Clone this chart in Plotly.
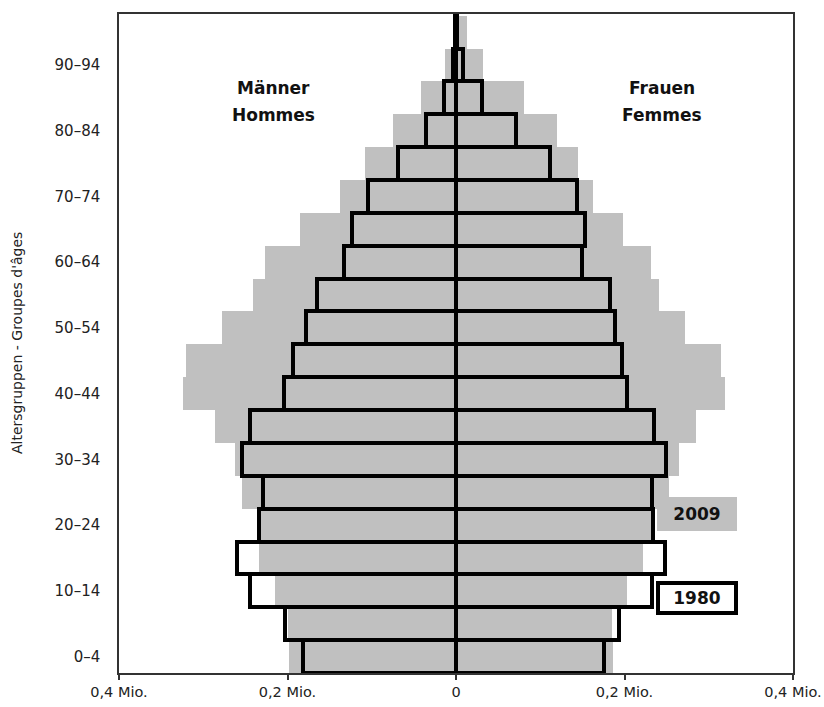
import plotly.graph_objects as go

ages = ["0–4", "5–9", "10–14", "15–19", "20–24", "25–29", "30–34", "35–39",
        "40–44", "45–49", "50–54", "55–59", "60–64", "65–69", "70–74", "75–79",
        "80–84", "85–89", "90–94", "95–99"]

# population in millions
men_2009 = [0.198, 0.199, 0.215, 0.234, 0.232, 0.254, 0.262, 0.2855, 0.324, 0.321,
            0.2775, 0.241, 0.227, 0.185, 0.138, 0.108, 0.0745, 0.041, 0.0125, 0.002]
women_2009 = [0.186, 0.1854, 0.203, 0.222, 0.231, 0.2526, 0.2645, 0.285, 0.319, 0.314,
              0.272, 0.241, 0.231, 0.198, 0.163, 0.145, 0.120, 0.081, 0.032, 0.0125]
men_1980 = [0.182, 0.203, 0.244, 0.2597, 0.234, 0.2285, 0.2546, 0.245, 0.204, 0.194,
            0.1775, 0.165, 0.133, 0.124, 0.104, 0.0686, 0.036, 0.014, 0.004, 0.001]
women_1980 = [0.1755, 0.1937, 0.2329, 0.2483, 0.2336, 0.2329, 0.2487, 0.2356, 0.203, 0.197,
              0.189, 0.183, 0.150, 0.153, 0.144, 0.111, 0.071, 0.031, 0.0085, 0.001]

x_tickvals = [-0.4, -0.2, 0, 0.2, 0.4]
x_ticktext = ["0,4 Mio.", "0,2 Mio.", "0", "0,2 Mio.", "0,4 Mio."]
y_ticklabels = ages[0:19:2]

GRAY = "#c0c0c0"
FONT = "DejaVu Sans"

fig = go.Figure()
fig.add_trace(go.Bar(y=ages, x=[-v for v in men_2009], orientation="h",
                     marker=dict(color=GRAY, line=dict(width=0)), name="Männer 2009"))
fig.add_trace(go.Bar(y=ages, x=women_2009, orientation="h",
                     marker=dict(color=GRAY, line=dict(width=0)), name="Frauen 2009"))
fig.add_trace(go.Bar(y=ages, x=[-v for v in men_1980], orientation="h",
                     marker=dict(color="rgba(0,0,0,0)", line=dict(color="black", width=4)),
                     name="Männer 1980"))
fig.add_trace(go.Bar(y=ages, x=women_1980, orientation="h",
                     marker=dict(color="rgba(0,0,0,0)", line=dict(color="black", width=4)),
                     name="Frauen 1980"))

lbl = dict(showarrow=False, xref="x", yref="paper", yanchor="middle", xanchor="center",
           font=dict(size=17, color="#111", family=FONT))
annotations = [
    dict(text="<b>Männer</b>", x=-0.217, y=0.888, **lbl),
    dict(text="<b>Hommes</b>", x=-0.217, y=0.847, **lbl),
    dict(text="<b>Frauen</b>", x=0.244, y=0.888, **lbl),
    dict(text="<b>Femmes</b>", x=0.244, y=0.847, **lbl),
    dict(text="<b>2009</b>", x=0.2866, y=4.346, xref="x", yref="y", showarrow=False,
         bgcolor=GRAY, width=80, height=34, borderpad=0, borderwidth=0,
         font=dict(size=17, color="#111", family=FONT)),
    dict(text="<b>1980</b>", x=0.2866, y=1.797, xref="x", yref="y", showarrow=False,
         bgcolor="white", bordercolor="black", borderwidth=4, borderpad=0,
         width=74, height=26,
         font=dict(size=17, color="#111", family=FONT)),
    dict(text="Altersgruppen - Groupes d'âges", x=-0.152, y=0.5, xref="paper", yref="paper",
         textangle=-90, showarrow=False, xanchor="center", yanchor="middle",
         font=dict(size=14, color="#222", family=FONT)),
]

fig.update_layout(
    width=824, height=707,
    margin=dict(l=119, r=31, t=14, b=34),
    paper_bgcolor="white", plot_bgcolor="white",
    barmode="overlay", bargap=0,
    showlegend=False,
    font=dict(family=FONT, size=14, color="#222"),
    annotations=annotations,
    xaxis=dict(range=[-0.4, 0.4], tickvals=x_tickvals, ticktext=x_ticktext,
               showgrid=False, zeroline=False, showline=True, mirror=True,
               linecolor="#333", linewidth=1.5, ticks="outside", ticklen=5,
               tickwidth=1.5, tickcolor="#333", automargin=False,
               tickfont=dict(size=14.5, color="#222")),
    yaxis=dict(type="category", categoryorder="array", categoryarray=ages,
               range=[-0.5, 19.55], tickvals=y_ticklabels, ticktext=y_ticklabels,
               showgrid=False, zeroline=False, showline=True, mirror=True,
               linecolor="#333", linewidth=1.5, ticks="", ticklabelstandoff=14,
               automargin=False, tickfont=dict(size=15, color="#222")),
)

fig.write_html("out.html", config={"displayModeBar": False},
               post_script="document.body.style.margin='0';document.body.style.overflow='hidden';")
